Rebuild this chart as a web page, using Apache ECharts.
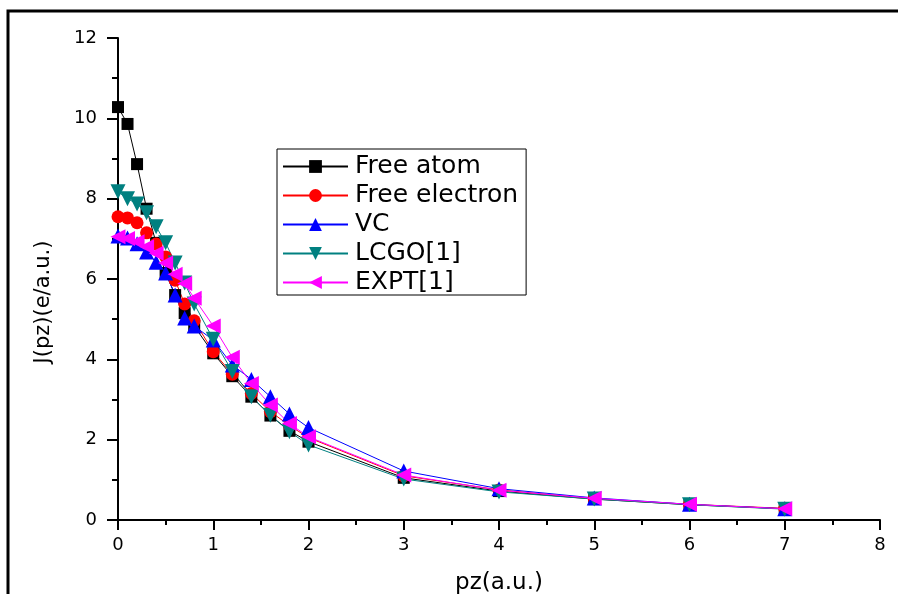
<!DOCTYPE html>
<html><head><meta charset="utf-8">
<script src="https://cdn.jsdelivr.net/npm/echarts@6/dist/echarts.min.js"></script>
<style>html,body{margin:0;padding:0;background:#fff}#c{width:898px;height:594px}</style>
</head><body><div id="c"></div>
<script>
const pz = [0,0.1,0.2,0.3,0.4,0.5,0.6,0.7,0.8,1.0,1.2,1.4,1.6,1.8,2.0,3,4,5,6,7];
const freeAtom     = [10.28,9.86,8.86,7.75,6.9,6.15,5.6,5.15,4.83,4.15,3.58,3.07,2.6,2.22,1.95,1.05,0.72,0.52,0.38,0.28];
const freeElectron = [7.55,7.52,7.4,7.15,6.87,6.55,5.97,5.38,4.96,4.19,3.63,3.15,2.7,2.35,2.05,1.1,0.75,0.53,0.39,0.29];
const vc           = [7.07,7.02,6.88,6.67,6.42,6.15,5.6,5.03,4.83,4.48,3.86,3.5,3.07,2.64,2.3,1.22,0.78,0.55,0.39,0.28];
const lcgo         = [8.17,8.0,7.87,7.65,7.3,6.9,6.4,5.9,5.38,4.5,3.7,3.07,2.61,2.2,1.87,1.02,0.7,0.52,0.38,0.27];
const expt         = [7.05,7.01,6.93,6.8,6.64,6.4,6.12,5.89,5.52,4.83,4.05,3.4,2.86,2.4,2.07,1.12,0.74,0.54,0.39,0.28];
const seriesNames = ['Free atom','Free electron','VC','LCGO[1]','EXPT[1]'];
const xTicks = [0,1,2,3,4,5,6,7,8];
const yTicks = [0,2,4,6,8,10,12];

const pair = arr => pz.map((x,i)=>[x,arr[i]]);
const chart = echarts.init(document.getElementById('c'), null, {renderer:'canvas'});
const F = '"DejaVu Sans", sans-serif';
function mk(name, data, color, symbol, size, rot){
  return {name, type:'line', data:pair(data), symbol, symbolSize:size, symbolRotate:rot||0,
    lineStyle:{color, width:1}, itemStyle:{color}, animation:false};
}
chart.setOption({
  animation:false,
  grid:{left:118,right:18,top:38,bottom:74,containLabel:false,outerBoundsMode:'none'},
  graphic:[{type:'rect',shape:{x:8,y:11,width:1000,height:1000},style:{fill:'none',stroke:'#000',lineWidth:3},z:100}],
  legend:{orient:'vertical',left:277,top:149,padding:[5,8,0,5],itemGap:4,itemWidth:65,itemHeight:16,
    borderColor:'#000',borderWidth:1,
    textStyle:{fontFamily:F,fontSize:25,color:'#000',padding:[0,0,0,2]},
    data:seriesNames},
  xAxis:{type:'value',min:0,max:8,interval:1,
    name:'pz(a.u.)',nameLocation:'middle',nameGap:52,nameTextStyle:{fontFamily:F,fontSize:23,color:'#000'},
    axisLine:{lineStyle:{color:'#000',width:2}},
    axisTick:{show:true,inside:false,length:10,lineStyle:{color:'#000',width:2}},
    minorTick:{show:true,splitNumber:2,length:5,lineStyle:{color:'#000',width:2}},
    axisLabel:{fontFamily:F,fontSize:18,color:'#000',margin:16},
    splitLine:{show:false}},
  yAxis:{type:'value',min:0,max:12,interval:2,
    name:'J(pz)(e/a.u.)',nameLocation:'middle',nameGap:64,nameRotate:90,
    nameTextStyle:{fontFamily:F,fontSize:21,color:'#000',padding:[0,46,0,0]},
    axisLine:{show:true,lineStyle:{color:'#000',width:2}},
    axisTick:{show:true,inside:false,length:11,lineStyle:{color:'#000',width:2}},
    minorTick:{show:true,splitNumber:2,length:6,lineStyle:{color:'#000',width:2}},
    axisLabel:{fontFamily:F,fontSize:18,color:'#000',margin:21},
    splitLine:{show:false}},
  series:[
    mk(seriesNames[0],freeAtom,'#000000','rect',12),
    mk(seriesNames[1],freeElectron,'#ff0000','circle',13),
    mk(seriesNames[2],vc,'#0000ff','triangle',15),
    mk(seriesNames[3],lcgo,'#008080','triangle',15,180),
    mk(seriesNames[4],expt,'#ff00ff','triangle',15,90)
  ]
});
</script></body></html>
